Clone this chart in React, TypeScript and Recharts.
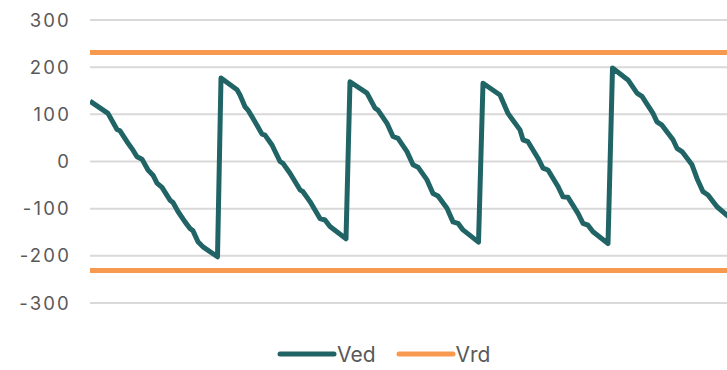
import React from 'react';
import { LineChart, Line, XAxis, YAxis, CartesianGrid, Legend } from 'recharts';

// Ved sampled at the vertices of the sawtooth (time, value)
const vedTime = [
  0, 1.8, 2.7, 3.0, 3.7, 4.3, 4.7, 5.2, 5.8, 6.3, 6.7, 7.2, 8.0, 8.3, 8.8, 9.5, 10.0, 10.3, 10.8, 11.3, 12.75,
  13.1, 14.7, 15.0, 15.5, 15.8, 16.7, 17.2, 17.5, 18.2, 19.0, 19.3, 20.0, 21.0, 21.3, 22.0, 23.0, 23.5, 24.0, 25.6,
  26.0, 27.7, 28.5, 28.8, 29.7, 30.3, 30.8, 31.7, 32.3, 32.8, 33.7, 34.3, 34.8, 35.7, 36.3, 36.8, 37.3, 38.85,
  39.3, 41.0, 41.8, 43.0, 43.3, 43.8, 44.8, 45.3, 45.8, 46.8, 47.3, 47.8, 48.8, 49.3, 49.8, 50.3, 51.8,
  52.25, 53.8, 54.7, 55.2, 56.3, 56.7, 57.2, 58.3, 58.7, 59.2, 60.2, 60.7, 61.3, 61.8, 62.7, 63.7, 64.3,
];
const vedValue = [
  128, 102, 68, 65, 42, 24, 10, 5, -18, -29, -46, -55, -82, -87, -106, -128, -142, -147, -170, -181, -202,
  177, 152, 141, 116, 109, 77, 58, 56, 35, 0, -4, -25, -60, -64, -85, -121, -124, -138, -164,
  169, 145, 113, 109, 81, 53, 49, 21, -7, -12, -39, -68, -73, -99, -128, -131, -145, -171,
  166, 141, 102, 67, 46, 42, 7, -14, -18, -53, -75, -76, -110, -131, -135, -149, -174,
  198, 173, 145, 138, 102, 84, 77, 46, 28, 21, -7, -36, -64, -71, -96, -114, -125,
];

// Vrd limits, drawn as two flat lines
const vrdTime = [0, 64];
const vrdLimit = 231;

const yTicks = [-300, -200, -100, 0, 100, 200, 300];

const vedData = vedTime.map((t, i) => ({ t, ved: vedValue[i] }));
const vrdUpper = vrdTime.map((t) => ({ t, vrd: vrdLimit }));
const vrdLower = vrdTime.map((t) => ({ t, vrd: -vrdLimit }));

const VED_COLOR = '#216466';
const VRD_COLOR = '#f79a50';

const legendItems = [
  { label: 'Ved', color: VED_COLOR },
  { label: 'Vrd', color: VRD_COLOR },
];

const renderLegend = () => (
  <div
    style={{
      display: 'flex',
      alignItems: 'center',
      height: 24,
      fontFamily: 'Inter',
      fontSize: 21,
      color: '#595959',
    }}
  >
    {legendItems.map((item) => (
      <div key={item.label} style={{ display: 'flex', alignItems: 'center', marginRight: 20 }}>
        <svg width={60} height={10}>
          <line x1={3} y1={5} x2={57} y2={5} stroke={item.color} strokeWidth={5} strokeLinecap="round" />
        </svg>
        <span>{item.label}</span>
      </div>
    ))}
  </div>
);

export default function App() {
  return (
    <div style={{ position: 'absolute', top: 0, left: 0, width: 727, height: 370, overflow: 'hidden', background: '#fff' }}>
      <LineChart width={730} height={370} margin={{ top: 20, right: 0, bottom: 43, left: 0 }}>
        <CartesianGrid vertical={false} stroke="#d9d9d9" strokeWidth={2} />
        <XAxis type="number" dataKey="t" domain={[0, 64]} allowDataOverflow hide />
        <YAxis
          type="number"
          domain={[-300, 300]}
          ticks={yTicks}
          width={90}
          axisLine={false}
          tickLine={false}
          tickMargin={13}
          tick={{ fill: '#595959', fontSize: 18.5, fontFamily: 'Inter', letterSpacing: 2.2 }}
        />
        <Line
          data={vrdUpper}
          dataKey="vrd"
          name="Vrd"
          stroke={VRD_COLOR}
          strokeWidth={5}
          dot={false}
          isAnimationActive={false}
          legendType="none"
        />
        <Line
          data={vrdLower}
          dataKey="vrd"
          name="Vrd"
          stroke={VRD_COLOR}
          strokeWidth={5}
          dot={false}
          isAnimationActive={false}
          legendType="none"
        />
        <Line
          data={vedData}
          dataKey="ved"
          name="Ved"
          stroke={VED_COLOR}
          strokeWidth={5}
          strokeLinejoin="round"
          dot={false}
          isAnimationActive={false}
        />
        <Legend content={renderLegend} wrapperStyle={{ top: 342, left: 277, width: 'auto', height: 24 }} />
      </LineChart>
    </div>
  );
}
